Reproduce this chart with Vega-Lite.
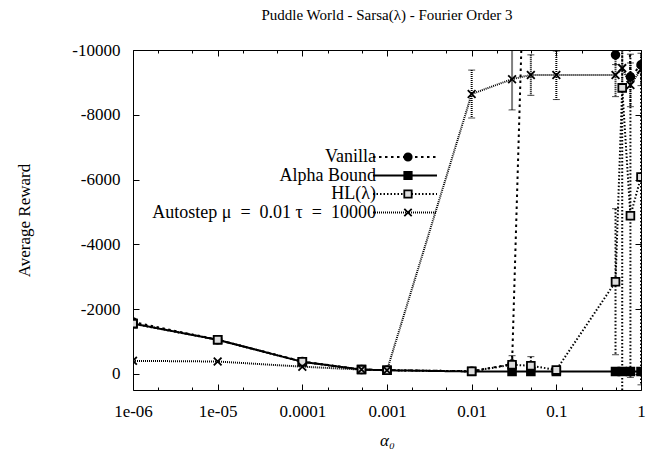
{
  "$schema": "https://vega.github.io/schema/vega-lite/v6.json",
  "width": 508,
  "height": 340,
  "padding": {"left": 15, "top": 8, "right": 13, "bottom": 2},
  "background": "white",
  "title": {"text": "Puddle World - Sarsa(λ) - Fourier Order 3", "font": "Liberation Serif", "fontSize": 15, "fontWeight": "normal", "color": "black", "offset": 18, "anchor": "middle"},
  "config": {
    "view": {"stroke": "black", "strokeWidth": 1},
    "axis": {"grid": false, "domain": false, "labelFont": "Liberation Serif", "titleFont": "Liberation Serif", "labelFontSize": 17, "titleFontSize": 17, "titleFontWeight": "normal", "labelColor": "black", "titleColor": "black", "tickColor": "black", "tickWidth": 1},
    "legend": {"labelFont": "Liberation Serif", "labelFontSize": 18, "labelColor": "black", "padding": 0}
  },
  "data": {"values": [
    {"series": "Vanilla", "x": 0.000001, "y": -1600},
    {"series": "Vanilla", "x": 0.00001, "y": -1050},
    {"series": "Vanilla", "x": 0.0001, "y": -380},
    {"series": "Vanilla", "x": 0.0005, "y": -130},
    {"series": "Vanilla", "x": 0.001, "y": -110},
    {"series": "Vanilla", "x": 0.01, "y": -80},
    {"series": "Vanilla", "x": 0.03, "y": -300},
    {"series": "Vanilla", "x": 0.05, "y": -20000},
    {"series": "Vanilla", "x": 0.1, "y": -20000},
    {"series": "Vanilla", "x": 0.5, "y": -9850, "lo": -10150, "hi": -9550},
    {"series": "Vanilla", "x": 0.6, "y": -20000},
    {"series": "Vanilla", "x": 0.75, "y": -9170},
    {"series": "Vanilla", "x": 1, "y": -9540},
    {"series": "Alpha Bound", "x": 0.000001, "y": -1550},
    {"series": "Alpha Bound", "x": 0.00001, "y": -1050},
    {"series": "Alpha Bound", "x": 0.0001, "y": -370},
    {"series": "Alpha Bound", "x": 0.0005, "y": -130},
    {"series": "Alpha Bound", "x": 0.001, "y": -110},
    {"series": "Alpha Bound", "x": 0.01, "y": -70},
    {"series": "Alpha Bound", "x": 0.03, "y": -70},
    {"series": "Alpha Bound", "x": 0.05, "y": -70},
    {"series": "Alpha Bound", "x": 0.1, "y": -70},
    {"series": "Alpha Bound", "x": 0.5, "y": -70},
    {"series": "Alpha Bound", "x": 0.6, "y": -70},
    {"series": "Alpha Bound", "x": 0.75, "y": -70},
    {"series": "Alpha Bound", "x": 1, "y": -70},
    {"series": "HL(λ)", "x": 0.000001, "y": -1550},
    {"series": "HL(λ)", "x": 0.00001, "y": -1050},
    {"series": "HL(λ)", "x": 0.0001, "y": -370},
    {"series": "HL(λ)", "x": 0.0005, "y": -130},
    {"series": "HL(λ)", "x": 0.001, "y": -110},
    {"series": "HL(λ)", "x": 0.01, "y": -80},
    {"series": "HL(λ)", "x": 0.03, "y": -280, "lo": -560, "hi": 0},
    {"series": "HL(λ)", "x": 0.05, "y": -250, "lo": -530, "hi": 30},
    {"series": "HL(λ)", "x": 0.1, "y": -120},
    {"series": "HL(λ)", "x": 0.5, "y": -2840, "lo": -5100, "hi": -590},
    {"series": "HL(λ)", "x": 0.6, "y": -8830, "lo": -19000, "hi": 1300},
    {"series": "HL(λ)", "x": 0.75, "y": -4880, "lo": -9870, "hi": 110},
    {"series": "HL(λ)", "x": 1, "y": -6080, "lo": -12500, "hi": 340},
    {"series": "Autostep μ\u2002=\u20020.01 τ\u2002=\u200210000", "x": 0.000001, "y": -400},
    {"series": "Autostep μ\u2002=\u20020.01 τ\u2002=\u200210000", "x": 0.00001, "y": -380},
    {"series": "Autostep μ\u2002=\u20020.01 τ\u2002=\u200210000", "x": 0.0001, "y": -220},
    {"series": "Autostep μ\u2002=\u20020.01 τ\u2002=\u200210000", "x": 0.0005, "y": -130},
    {"series": "Autostep μ\u2002=\u20020.01 τ\u2002=\u200210000", "x": 0.001, "y": -110},
    {"series": "Autostep μ\u2002=\u20020.01 τ\u2002=\u200210000", "x": 0.01, "y": -8640, "lo": -9380, "hi": -7900},
    {"series": "Autostep μ\u2002=\u20020.01 τ\u2002=\u200210000", "x": 0.03, "y": -9100, "lo": -10050, "hi": -8150},
    {"series": "Autostep μ\u2002=\u20020.01 τ\u2002=\u200210000", "x": 0.05, "y": -9230, "lo": -9850, "hi": -8600},
    {"series": "Autostep μ\u2002=\u20020.01 τ\u2002=\u200210000", "x": 0.1, "y": -9230, "lo": -9970, "hi": -8470},
    {"series": "Autostep μ\u2002=\u20020.01 τ\u2002=\u200210000", "x": 0.5, "y": -9230, "lo": -9900, "hi": -8560},
    {"series": "Autostep μ\u2002=\u20020.01 τ\u2002=\u200210000", "x": 0.6, "y": -9440, "lo": -10100, "hi": -8780},
    {"series": "Autostep μ\u2002=\u20020.01 τ\u2002=\u200210000", "x": 0.75, "y": -8920, "lo": -9600, "hi": -8250},
    {"series": "Autostep μ\u2002=\u20020.01 τ\u2002=\u200210000", "x": 1, "y": -9400, "lo": -9900, "hi": -8900}
  ]},
  "layer": [
    {
      "mark": {"type": "line", "clip": true, "color": "black"},
      "encoding": {
        "x": {"field": "x", "type": "quantitative", "scale": {"type": "log", "domain": [0.000001, 1], "nice": false},
          "axis": {"orient": "bottom", "values": [0.000001, 0.00001, 0.0001, 0.001, 0.01, 0.1, 1], "labelExpr": "datum.value < 0.000005 ? '1e-06' : datum.value < 0.00005 ? '1e-05' : toString(datum.value)", "ticks": false, "labelPadding": 13, "labelFlush": false, "labelOverlap": false, "title": "α₀", "titleFontStyle": "italic", "titlePadding": 13}},
        "y": {"field": "y", "type": "quantitative", "scale": {"domain": [-10000, 500], "reverse": true, "nice": false, "zero": false},
          "axis": {"orient": "left", "values": [-10000, -8000, -6000, -4000, -2000, 0], "labelExpr": "toString(datum.value)", "ticks": false, "labelPadding": 13, "title": "Average Reward", "titlePadding": 38}},
        "strokeDash": {"field": "series", "type": "nominal",
          "scale": {"domain": ["Vanilla", "Alpha Bound", "HL(λ)", "Autostep μ\u2002=\u20020.01 τ\u2002=\u200210000"], "range": [[2.5, 3.5], [1, 0], [1.5, 2], [1, 1]]},
          "legend": {"title": null, "orient": "none", "legendX": 263, "legendY": 98, "symbolType": "M-8,0L8,0", "symbolSize": 64, "symbolStrokeWidth": 1.5, "symbolStrokeColor": "black", "labelAlign": "right", "labelOffset": -38, "rowPadding": 0.5, "labelLimit": 0}},
        "strokeWidth": {"field": "series", "type": "nominal", "scale": {"domain": ["Vanilla", "Alpha Bound", "HL(λ)", "Autostep μ\u2002=\u20020.01 τ\u2002=\u200210000"], "range": [2, 2, 1.5, 1]}, "legend": null}
      }
    },
    {
      "transform": [{"filter": "isValid(datum.lo)"}],
      "mark": {"type": "rule", "clip": true, "color": "black"},
      "encoding": {
        "x": {"field": "x", "type": "quantitative", "axis": {"orient": "bottom", "values": [0.000001, 0.00001, 0.0001, 0.001, 0.01, 0.1, 1], "labels": false, "tickSize": -6, "title": null}},
        "y": {"field": "lo", "type": "quantitative", "axis": {"orient": "left", "values": [-10000, -8000, -6000, -4000, -2000, 0], "labels": false, "tickSize": -6, "title": null}},
        "y2": {"field": "hi"},
        "strokeDash": {"field": "series", "type": "nominal"},
        "strokeWidth": {"field": "series", "type": "nominal"}
      }
    },
    {
      "transform": [{"filter": "isValid(datum.lo)"}],
      "mark": {"type": "tick", "orient": "horizontal", "clip": true, "color": "black", "size": 7, "thickness": 1},
      "encoding": {
        "x": {"field": "x", "type": "quantitative", "axis": {"orient": "top", "values": [0.000001, 0.00001, 0.0001, 0.001, 0.01, 0.1, 1], "labels": false, "tickSize": -6, "title": null}},
        "y": {"field": "lo", "type": "quantitative", "axis": {"orient": "right", "values": [-10000, -8000, -6000, -4000, -2000, 0], "labels": false, "tickSize": -6, "title": null}}
      }
    },
    {
      "transform": [{"filter": "isValid(datum.hi)"}],
      "mark": {"type": "tick", "orient": "horizontal", "clip": true, "color": "black", "size": 7, "thickness": 1},
      "encoding": {
        "x": {"field": "x", "type": "quantitative", "axis": {"orient": "bottom", "values": [0.000002, 0.000005, 0.00002, 0.00005, 0.0002, 0.0005, 0.002, 0.005, 0.02, 0.05, 0.2, 0.5], "labels": false, "tickSize": -3, "title": null}},
        "y": {"field": "hi", "type": "quantitative", "axis": null}
      }
    },
    {
      "mark": {"type": "point", "filled": false, "clip": true, "color": "black", "stroke": "black", "strokeWidth": 1.8, "size": 60, "opacity": 1},
      "encoding": {
        "x": {"field": "x", "type": "quantitative", "axis": {"orient": "top", "values": [0.000002, 0.000005, 0.00002, 0.00005, 0.0002, 0.0005, 0.002, 0.005, 0.02, 0.05, 0.2, 0.5], "labels": false, "tickSize": -3, "title": null}},
        "y": {"field": "y", "type": "quantitative", "axis": null},
        "shape": {"field": "series", "type": "nominal", "sort": null,
          "scale": {"range": ["circle", "square", "square", "M-1,-1L1,1M-1,1L1,-1"]},
          "legend": {"title": null, "orient": "none", "legendX": 266, "legendY": 98, "symbolSize": 55, "symbolStrokeColor": "black", "symbolStrokeWidth": 1.8, "symbolOpacity": 1, "labelOpacity": 0, "rowPadding": 0.5, "labelLimit": 0,
            "encode": {"symbols": {"update": {"stroke": {"value": "black"}, "strokeWidth": {"value": 1.8}}}}}},
        "fill": {"field": "series", "type": "nominal", "sort": null,
          "scale": {"range": ["black", "black", "#dddddd", "black"]},
          "legend": {"title": null, "orient": "none", "legendX": 266, "legendY": 98, "symbolSize": 55, "symbolStrokeColor": "black", "symbolStrokeWidth": 1.8, "symbolOpacity": 1, "labelOpacity": 0, "rowPadding": 0.5, "labelLimit": 0,
            "encode": {"symbols": {"update": {"stroke": {"value": "black"}, "strokeWidth": {"value": 1.8}}}}}}
      }
    }
  ],
  "resolve": {"axis": {"x": "independent", "y": "independent"}}
}
